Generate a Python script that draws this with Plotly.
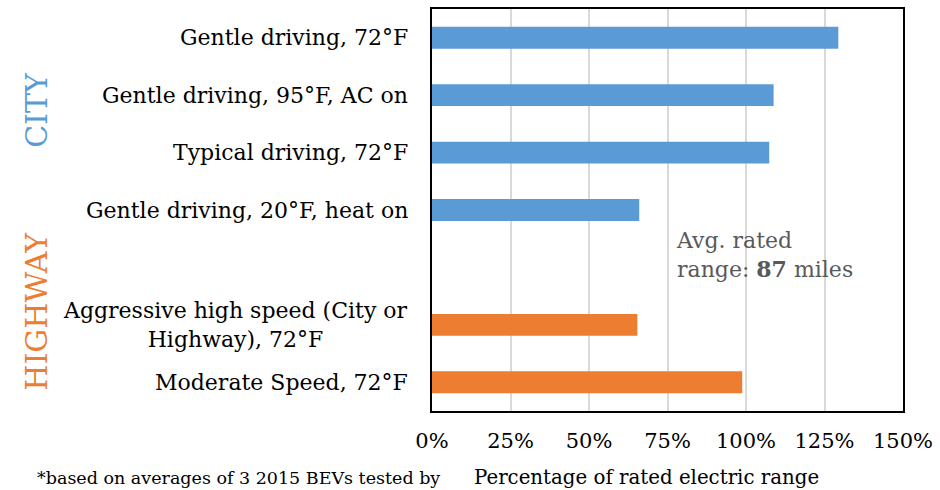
import plotly.graph_objects as go

# Range test results as a share of rated electric range
categories = [
    "Gentle driving, 72°F",
    "Gentle driving, 95°F, AC on",
    "Typical driving, 72°F",
    "Gentle driving, 20°F, heat on",
    " ",
    "Aggressive high speed (City or<br>Highway), 72°F",
    "Moderate Speed, 72°F",
]
values = [129.4, 108.8, 107.4, 66.0, None, 65.4, 98.8]
groups = ["city", "city", "city", "city", None, "highway", "highway"]
tick_vals = [0, 25, 50, 75, 100, 125, 150]
tick_text = ["0%", "25%", "50%", "75%", "100%", "125%", "150%"]

BLUE = "#5B9BD5"
ORANGE = "#ED7D31"
FONT = "DejaVu Serif"

colors = [BLUE if g == "city" else ORANGE for g in groups]

fig = go.Figure(
    go.Bar(
        x=values,
        y=categories,
        orientation="h",
        marker=dict(color=colors, line=dict(width=0)),
        width=0.38,
        hoverinfo="skip",
    )
)

# Category labels drawn as annotations so wrapped lines stay centred
for cat in categories:
    if not cat.strip():
        continue
    fig.add_annotation(
        x=0, xref="paper", y=cat, yref="y",
        text=cat, showarrow=False, xanchor="right", yanchor="middle",
        align="center", xshift=-22,
        font=dict(family=FONT, size=22, color="#000000"),
    )

fig.add_annotation(
    x=77, xref="x", y=0.389, yref="paper",
    text="Avg. rated<br>range: <b>87</b> miles", showarrow=False,
    xanchor="left", yanchor="middle", align="left",
    font=dict(family=FONT, size=22, color="#595959"),
)

fig.add_annotation(
    x=-0.84, xref="paper", y=0.75, yref="paper",
    text="CITY", textangle=-90, showarrow=False,
    xanchor="center", yanchor="middle",
    font=dict(family=FONT, size=30, color=BLUE),
)
fig.add_annotation(
    x=-0.84, xref="paper", y=0.248, yref="paper",
    text="HIGHWAY", textangle=-90, showarrow=False,
    xanchor="center", yanchor="middle",
    font=dict(family=FONT, size=30, color=ORANGE),
)
fig.add_annotation(
    x=-0.843, xref="paper", y=-0.166, yref="paper",
    text="*based on averages of 3 2015 BEVs tested by", showarrow=False,
    xanchor="left", yanchor="middle",
    font=dict(family=FONT, size=17.5, color="#000000"),
)
fig.add_annotation(
    x=0.084, xref="paper", y=-0.166, yref="paper",
    text="Percentage of rated electric range", showarrow=False,
    xanchor="left", yanchor="middle",
    font=dict(family=FONT, size=19.8, color="#000000"),
)

fig.update_layout(
    width=940, height=490,
    margin=dict(l=432, r=32, t=7, b=79),
    paper_bgcolor="white", plot_bgcolor="white",
    showlegend=False,
    xaxis=dict(
        range=[0, 150], tickvals=tick_vals, ticktext=tick_text,
        showgrid=True, gridcolor="#D9D9D9", gridwidth=2,
        showline=True, linecolor="#000000", linewidth=2, mirror=True,
        zeroline=False, ticks="", ticklabelstandoff=10,
        tickfont=dict(family=FONT, size=21, color="#000000"),
    ),
    yaxis=dict(
        categoryorder="array", categoryarray=categories,
        autorange="reversed", showticklabels=False, ticks="",
        showgrid=False, zeroline=False,
        showline=True, linecolor="#000000", linewidth=2, mirror=True,
    ),
)

fig.write_html("out.html")
